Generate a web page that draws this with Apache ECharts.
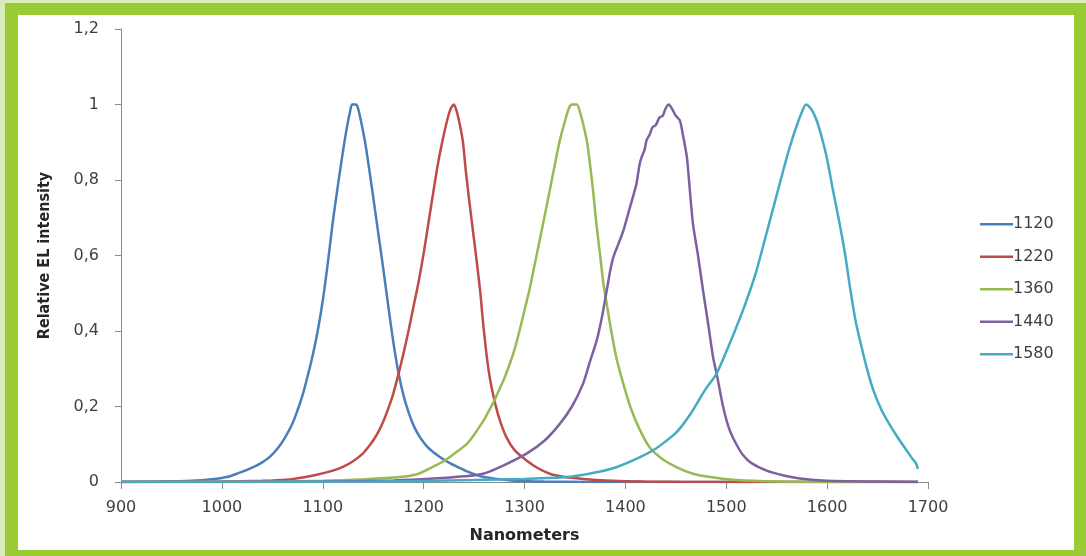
<!DOCTYPE html>
<html>
<head>
<meta charset="utf-8">
<script src="https://cdn.jsdelivr.net/npm/echarts@6/dist/echarts.min.js"></script>
<style>
  html, body { margin: 0; padding: 0; width: 1086px; height: 556px; overflow: hidden; background: #d9eabb; }
  #frame { position: absolute; left: 5px; top: 3px; width: 1081px; height: 553px; background: #9acb34; }
  #chart { position: absolute; left: 18px; top: 15px; width: 1056px; height: 535px; background: #ffffff; }
</style>
</head>
<body>
<div id="frame"></div>
<div id="chart"></div>
<script>
const seriesNames = ['1120', '1220', '1360', '1440', '1580'];
const xTicks = { min: 900, max: 1700, step: 100 };
const yTicks = { min: 0, max: 1.2, step: 0.2 };

const s1120 = [[900,0],[940,0.001],[970,0.003],[990,0.007],[1005,0.013],[1015,0.022],[1030,0.038],[1040,0.052],[1048,0.068],[1055,0.088],[1062,0.115],[1070,0.155],[1075,0.19],[1080,0.23],[1085,0.28],[1090,0.335],[1095,0.4],[1100,0.48],[1105,0.58],[1110,0.69],[1115,0.785],[1120,0.875],[1124,0.94],[1127,0.98],[1129,1.0],[1133,1.0],[1135,0.99],[1138,0.955],[1142,0.9],[1146,0.83],[1150,0.755],[1155,0.66],[1160,0.565],[1165,0.465],[1170,0.37],[1175,0.29],[1180,0.23],[1185,0.185],[1190,0.15],[1196,0.12],[1203,0.095],[1210,0.078],[1218,0.063],[1226,0.05],[1235,0.038],[1243,0.028],[1252,0.019],[1260,0.013],[1275,0.007],[1290,0.003],[1320,0.001],[1400,0],[1690,0]];

const s1220 = [[900,0],[1000,0.001],[1040,0.003],[1064,0.006],[1080,0.012],[1095,0.02],[1110,0.03],[1120,0.04],[1130,0.055],[1140,0.076],[1145,0.092],[1150,0.11],[1155,0.132],[1160,0.16],[1165,0.195],[1170,0.235],[1175,0.285],[1180,0.34],[1185,0.4],[1190,0.465],[1195,0.53],[1200,0.605],[1205,0.69],[1210,0.775],[1215,0.855],[1220,0.92],[1224,0.965],[1227,0.99],[1230,1.0],[1233,0.98],[1236,0.945],[1239,0.9],[1242,0.82],[1246,0.728],[1251,0.62],[1256,0.507],[1259,0.42],[1262.5,0.335],[1266,0.27],[1271,0.207],[1276,0.16],[1282,0.119],[1290,0.085],[1302,0.057],[1313,0.037],[1325,0.022],[1340,0.013],[1358,0.008],[1380,0.004],[1420,0.001],[1500,0],[1690,0]];

const s1360 = [[900,0],[1050,0.001],[1100,0.003],[1140,0.007],[1176,0.013],[1195,0.022],[1209,0.04],[1220,0.055],[1230,0.074],[1243,0.101],[1250,0.125],[1255,0.145],[1260,0.165],[1265,0.19],[1270,0.215],[1275,0.245],[1280,0.275],[1285,0.31],[1290,0.35],[1295,0.4],[1300,0.455],[1305,0.51],[1310,0.575],[1315,0.64],[1320,0.705],[1325,0.772],[1330,0.84],[1335,0.905],[1340,0.955],[1344,0.99],[1347,1.0],[1352,1.0],[1355,0.98],[1358,0.95],[1362,0.9],[1365,0.84],[1368,0.772],[1371,0.69],[1375,0.6],[1378,0.53],[1381,0.48],[1386,0.4],[1391,0.33],[1398,0.26],[1405,0.198],[1414,0.14],[1424,0.092],[1437,0.06],[1451,0.039],[1467,0.022],[1484,0.013],[1510,0.005],[1550,0.001],[1600,0],[1690,0]];

const s1440 = [[900,0],[1100,0.001],[1170,0.004],[1210,0.009],[1240,0.015],[1259,0.022],[1280,0.045],[1302,0.075],[1320,0.11],[1335,0.154],[1347,0.2],[1358,0.26],[1365,0.32],[1371.6,0.375],[1377,0.44],[1381.5,0.507],[1385,0.56],[1388,0.595],[1393,0.63],[1398,0.666],[1404.6,0.728],[1408,0.76],[1411,0.79],[1414,0.84],[1416,0.86],[1419,0.88],[1421,0.905],[1424,0.92],[1427,0.94],[1430,0.945],[1434,0.966],[1437,0.97],[1440,0.99],[1443,1.0],[1447,0.985],[1450,0.97],[1454,0.958],[1457,0.92],[1461,0.86],[1464,0.77],[1467,0.684],[1472,0.6],[1477,0.507],[1482,0.42],[1487,0.33],[1491,0.28],[1497,0.198],[1503,0.14],[1510,0.1],[1517,0.07],[1525,0.05],[1540,0.03],[1557,0.017],[1573,0.009],[1600,0.003],[1650,0.001],[1690,0]];

const s1580 = [[900,0],[1150,0.001],[1250,0.005],[1300,0.008],[1342,0.013],[1370,0.025],[1391,0.039],[1414,0.065],[1430,0.088],[1441,0.11],[1450,0.13],[1457,0.152],[1465,0.182],[1472,0.213],[1480,0.248],[1490,0.285],[1500,0.345],[1510,0.41],[1520,0.48],[1530,0.56],[1540,0.66],[1550,0.76],[1560,0.86],[1565,0.905],[1570,0.945],[1575,0.98],[1579,1.0],[1582,0.995],[1586,0.98],[1590,0.955],[1595,0.91],[1600,0.855],[1606,0.77],[1612,0.69],[1618,0.6],[1623,0.51],[1628,0.43],[1633,0.37],[1640,0.295],[1646,0.242],[1654,0.19],[1662,0.152],[1670,0.118],[1679,0.083],[1685,0.06],[1688,0.05],[1690,0.035]];

const seriesData = [s1120, s1220, s1360, s1440, s1580];
const colors = ['#4a7ebb', '#be4b48', '#98b954', '#7d60a0', '#46aac5'];

const chart = echarts.init(document.getElementById('chart'), null, { renderer: 'canvas' });
const labelFont = { fontFamily: 'DejaVu Sans', fontSize: 16, color: '#404040' };

chart.setOption({
  animation: false,
  backgroundColor: '#ffffff',
  grid: { left: 103, right: 146, top: 14, bottom: 68, containLabel: false },
  legend: {
    orient: 'vertical',
    left: 957,
    top: 195,
    icon: 'rect',
    itemWidth: 33,
    itemHeight: 2.5,
    itemGap: 14,
    textStyle: Object.assign({}, labelFont, { lineHeight: 18.5, padding: [0, 0, 0, -5] }),
    data: seriesNames
  },
  xAxis: {
    type: 'value',
    min: xTicks.min, max: xTicks.max, interval: xTicks.step,
    name: 'Nanometers',
    nameLocation: 'middle',
    nameGap: 46,
    nameTextStyle: { fontFamily: 'DejaVu Sans', fontWeight: 'bold', fontSize: 16, color: '#262626' },
    axisLine: { show: true, lineStyle: { color: '#8a8a8a', width: 1 } },
    axisTick: { show: true, length: 7, lineStyle: { color: '#8a8a8a' } },
    axisLabel: Object.assign({ margin: 18, formatter: v => String(v) }, labelFont),
    splitLine: { show: false }
  },
  yAxis: {
    type: 'value',
    min: yTicks.min, max: yTicks.max, interval: yTicks.step,
    name: 'Relative EL intensity',
    nameLocation: 'middle',
    nameGap: 68,
    nameTextStyle: { fontFamily: 'DejaVu Sans Condensed', fontWeight: 'bold', fontSize: 16, color: '#262626' },
    axisLine: { show: true, lineStyle: { color: '#8a8a8a', width: 1 } },
    axisTick: { show: true, length: 6, lineStyle: { color: '#8a8a8a' } },
    axisLabel: Object.assign({
      margin: 22,
      formatter: v => String(Math.round(v * 10) / 10).replace('.', ',')
    }, labelFont),
    splitLine: { show: false }
  },
  series: seriesNames.map((name, i) => ({
    name: name,
    type: 'line',
    data: seriesData[i],
    symbol: 'none',
    smooth: 0.25,
    color: colors[i],
    lineStyle: { width: 2.5, color: colors[i] }
  }))
});
</script>
</body>
</html>
